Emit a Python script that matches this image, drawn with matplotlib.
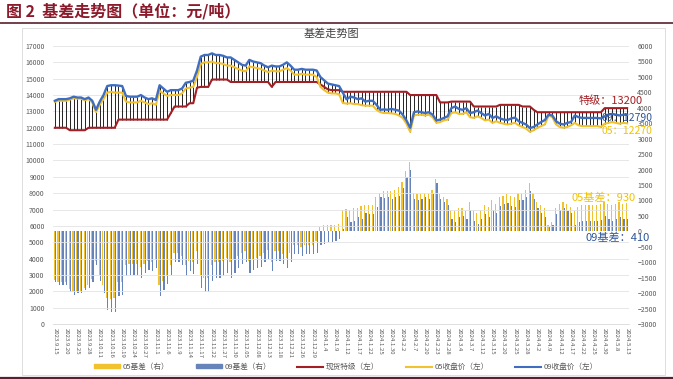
import numpy as np
import matplotlib
matplotlib.use("Agg")
import matplotlib.pyplot as plt
from matplotlib.lines import Line2D
from matplotlib.patches import Patch, Rectangle

plt.rcParams['font.family'] = ['Noto Sans CJK SC', 'DejaVu Sans']

# --- data (trading days 2023.9.15 - 2024.5.13) ---
tick_labels = [
    "2023.9.15", "2023.9.20", "2023.9.25", "2023.9.28", "2023.10.11", "2023.10.16",
    "2023.10.19", "2023.10.24", "2023.10.27", "2023.11.1", "2023.11.6", "2023.11.9",
    "2023.11.14", "2023.11.17", "2023.11.22", "2023.11.27", "2023.11.30", "2023.12.05",
    "2023.12.08", "2023.12.13", "2023.12.18", "2023.12.21", "2023.12.26", "2023.12.29",
    "2024.1.4", "2024.1.9", "2024.1.12", "2024.1.17", "2024.1.22", "2024.1.25",
    "2024.1.30", "2024.2.2", "2024.2.7", "2024.2.20", "2024.2.23", "2024.2.28",
    "2024.3.4", "2024.3.7", "2024.3.12", "2024.3.15", "2024.3.20", "2024.3.25",
    "2024.3.28", "2024.4.2", "2024.4.9", "2024.4.12", "2024.4.17", "2024.4.22",
    "2024.4.25", "2024.4.30", "2024.5.8", "2024.5.13",
]

spot = [
    12000, 12000, 12000, 12000, 11850, 11850, 11850, 11850, 11850, 12000,
    12000, 12000, 12000, 12000, 12000, 12000, 12000, 12500, 12500, 12500,
    12500, 12500, 12500, 12500, 12500, 12500, 12500, 12500, 12500, 12500,
    12500, 12900, 13300, 13300, 13300, 13300, 13500, 13500, 14450, 14500,
    14500, 14500, 14950, 14950, 14950, 14950, 14950, 14800, 14800, 14800,
    14800, 14800, 14800, 14800, 14800, 14800, 14800, 14800, 14500, 14800,
    14800, 14800, 14800, 14800, 14800, 14800, 14800, 14800, 14800, 14800,
    14800, 14650, 14500, 14350, 14300, 14300, 14300, 14200, 14200, 14200,
    14200, 14200, 14200, 14200, 14200, 14200, 14200, 14200, 14200, 14200,
    14200, 14200, 14200, 14200, 14200, 14000, 14000, 14000, 14000, 14000,
    14000, 14000, 14000, 13550, 13550, 13550, 13600, 13600, 13600, 13600,
    13600, 13600, 13300, 13300, 13300, 13300, 13300, 13300, 13300, 13400,
    13400, 13400, 13400, 13400, 13400, 13300, 13300, 13300, 13100, 12950,
    12950, 12950, 12950, 12950, 12950, 12950, 12950, 12950, 12950, 12950,
    12950, 12950, 12950, 12950, 12950, 12950, 12950, 13200, 13200, 13200,
    13200, 13200, 13200, 13200,
]

close05 = [
    13580, 13650, 13650, 13650, 13720, 13800, 13780, 13780, 13680, 13750,
    13550, 12950, 13400, 13750, 14150, 14200, 14150, 14150, 14150, 13600,
    13550, 13550, 13550, 13650, 13550, 13450, 13500, 13400, 14250, 14100,
    13950, 14000, 14000, 14000, 14100, 14400, 14450, 14500, 15100, 15900,
    16000, 16000, 16050, 15950, 15950, 15900, 15800, 15800, 15700, 15600,
    15500, 15450, 15750, 15700, 15650, 15600, 15500, 15400, 15500, 15450,
    15450, 15550, 15650, 15500, 15250, 15250, 15300, 15250, 15250, 15250,
    15100, 14500, 14300, 14150, 14100, 14100, 14050, 13510, 13480, 13500,
    13450, 13450, 13380, 13350, 13350, 13350, 13100, 12950, 12900, 12900,
    12880, 12850, 12750, 12600, 12250, 11750, 12750, 12800, 12800, 12750,
    12800, 12650, 12300, 12350, 12450, 12500, 12900, 12950, 12850, 12850,
    12950, 12650, 12600, 12700, 12600, 12450, 12500, 12300, 12400, 12300,
    12250, 12200, 12250, 12300, 12150, 12050, 11950, 11750, 11850, 12000,
    12100, 12200, 12750, 12650, 12200, 12050, 12000, 12050, 12150, 12300,
    12150, 12100, 12100, 12100, 12100, 12100, 12050, 12250, 12300, 12350,
    12300, 12250, 12300, 12270,
]

close09 = [
    13650, 13750, 13750, 13750, 13800, 13900, 13850, 13850, 13750, 13850,
    13650, 13100, 13600, 14000, 14550, 14600, 14600, 14580, 14550, 13950,
    13900, 13900, 13900, 14000, 13850, 13750, 13800, 13700, 14600, 14400,
    14200, 14300, 14300, 14300, 14400, 14750, 14800, 14880, 15500, 16350,
    16450, 16450, 16550, 16450, 16450, 16400, 16300, 16300, 16150, 16000,
    15850, 15800, 16150, 16050, 16000, 15950, 15800, 15700, 15800, 15750,
    15750, 15850, 16000, 15800, 15550, 15550, 15600, 15550, 15550, 15550,
    15500, 15100, 14900, 14700, 14650, 14600, 14550, 14140, 13735, 13900,
    13850, 13750, 13800, 13600, 13650, 13650, 13400, 13100, 13120, 13100,
    13150, 13100, 13050, 12800, 12450, 12000, 12950, 13000, 12950, 12900,
    12950, 12800, 12450, 12500, 12600, 12700, 13200, 13300, 13150, 13100,
    13200, 12900, 12950, 13050, 12900, 12750, 12850, 12600, 12700, 12570,
    12500, 12470, 12570, 12620, 12400, 12300, 12200, 11980, 12050, 12200,
    12350, 12470, 12800, 12750, 12400, 12250, 12200, 12300, 12350, 12750,
    12650, 12600, 12600, 12600, 12600, 12600, 12570, 12700, 12800, 12850,
    12800, 12750, 12800, 12790,
]

# basis = spot - futures close (right axis)
basis05 = np.array(spot) - np.array(close05)
basis09 = np.array(spot) - np.array(close09)

red = "#A31F24"
gold = "#F2C12E"
blue = "#3F6EC0"
bar_blue = "#6684BA"

fig = plt.figure(figsize=(6.73, 3.79), dpi=100)
W, H = 673, 379

def fx(px):
    return px / W

def fy(py):
    return 1 - py / H

# header and frame
fig.text(fx(6), fy(11), "图 2  基差走势图（单位：元/吨）", color="#8B1A2B",
         fontsize=11.5, fontweight="bold", va="center", ha="left")
fig.add_artist(Line2D([fx(0), fx(673)], [fy(22.5), fy(22.5)], color="#5A1F2E", lw=1.2))
fig.add_artist(Line2D([fx(0), fx(673)], [fy(377.5), fy(377.5)], color="#5A1F2E", lw=1.6))
fig.add_artist(Rectangle((fx(22), fy(375)), fx(665) - fx(22), fy(28) - fy(375),
                         fill=False, ec="#D9D9D9", lw=0.6))
fig.text(fx(331), fy(34), "基差走势图", color="#404040", fontsize=8, ha="center", va="center")

x = np.arange(len(spot))

ax = fig.add_axes([fx(53), fy(324), fx(629) - fx(53), (324 - 46) / H])
ax2 = ax.twinx()
ax.set_zorder(ax2.get_zorder() + 1)
ax.patch.set_visible(False)

# bars on the right axis
ax2.bar(x - 0.17, basis05, width=0.32, color=gold, zorder=2)
ax2.bar(x + 0.17, basis09, width=0.32, color=bar_blue, zorder=2)
ax2.set_ylim(-3000, 6000)
ax2.set_yticks(np.arange(-3000, 6001, 500))

# high-low lines and price lines on the left axis
hi = np.max([spot, close05, close09], axis=0)
lo = np.min([spot, close05, close09], axis=0)
ax.vlines(x, lo, hi, color="black", lw=0.6, zorder=2)
ax.plot(x, spot, color=red, lw=1.5, zorder=3)
ax.plot(x, close05, color=gold, lw=1.5, zorder=3)
ax.plot(x, close09, color=blue, lw=1.7, zorder=4)

ax.set_ylim(0, 17000)
ax.set_yticks(np.arange(0, 17001, 1000))
ax.set_xlim(-0.5, len(spot) - 0.5)
ax.set_xticks(x[::3])
ax.set_xticklabels(tick_labels, rotation=-90, fontsize=4.3, color="#595959")
ax.grid(axis="y", color="#E3E3E3", lw=0.6)
ax.set_axisbelow(True)

for a in (ax, ax2):
    for s in a.spines.values():
        s.set_visible(False)
    a.tick_params(length=0, labelsize=5, labelcolor="#595959")
ax.tick_params(axis="x", labelsize=4.3, pad=3)
ax.spines["bottom"].set_visible(True)
ax.spines["bottom"].set_color("#D9D9D9")
ax.spines["bottom"].set_linewidth(0.6)
ax.tick_params(axis="y", pad=6)
ax2.tick_params(axis="y", pad=6)

# end-value labels
fig.text(fx(579), fy(101), "特级：13200", color="#A31F24", fontsize=8, va="center")
fig.text(fx(602), fy(118), "09：12790", color="#2F5597", fontsize=7.5, va="center")
fig.text(fx(601), fy(131), "05：12270", color="#F2C200", fontsize=7.5, va="center")
fig.text(fx(571), fy(198), "05基差：930", color="#F2C200", fontsize=8, va="center")
fig.text(fx(586), fy(238), "09基差：410", color="#2F5597", fontsize=8, va="center")

handles = [
    Patch(color=gold),
    Patch(color=bar_blue),
    Line2D([], [], color=red, lw=1.5),
    Line2D([], [], color=gold, lw=1.5),
    Line2D([], [], color=blue, lw=1.5),
]
labels = ["05基差（右）", "09基差（右）", "现货特级（左）", "05收盘价（左）", "09收盘价（左）"]
fig.legend(handles, labels, loc="center", bbox_to_anchor=(fx(346), fy(367)), ncol=5,
           frameon=False, fontsize=5.5, handlelength=3.4, handleheight=0.5,
           columnspacing=3.4, handletextpad=0.4, labelcolor="#595959")

fig.savefig("out.png", dpi=100)
